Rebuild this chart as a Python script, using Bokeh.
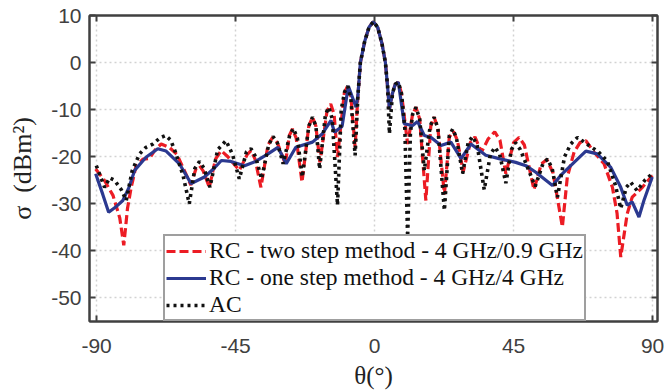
from bokeh.plotting import figure
from bokeh.models import Range1d, LinearAxis, FixedTicker, Legend, LegendItem
from bokeh.embed import file_html
from bokeh.resources import INLINE

# RC - two step method - 4 GHz/0.9 GHz
red_theta = [-90.3, -87.5, -84.7, -82.5, -81.2, -80.0, -78.8, -77.2, -75.0, -72.9,
             -71.0, -69.1, -66.5, -64.0, -62.1, -59.5, -57.8, -56.7, -55.5, -53.5,
             -51.5, -49.7, -47.5, -43.8, -41.2, -40.0, -38.7, -36.8, -34.5, -33.0,
             -31.5, -28.9, -27.6, -26.6, -25.4, -23.5, -21.3, -20.1, -19.0, -17.7,
             -15.4, -14.2, -13.1, -12.0, -9.8, -8.7, -7.7, -6.3, -5.4, -4.6,
             -3.2, -1.8, -0.4, 1.0, 2.4, 3.5, 4.2, 4.8, 5.8, 6.7,
             7.7, 8.7, 10.7, 12.3, 13.4, 14.6, 16.6, 18.2, 19.3, 20.5,
             22.6, 24.2, 25.5, 26.8, 28.7, 31.0, 32.5, 34.6, 36.8, 38.9,
             40.6, 42.5, 45.0, 46.8, 48.5, 51.6, 54.0, 55.8, 57.8, 60.8,
             62.4, 64.6, 66.5, 68.4, 71.0, 74.3, 77.0, 78.5, 79.7, 81.8,
             83.4, 86.7, 89.9]
red_sigma = [-22.6, -25.0, -28.2, -33.0, -38.8, -31.0, -26.5, -21.9, -20.5, -20.4,
             -18.5, -17.3, -18.0, -19.5, -22.2, -26.0, -22.5, -21.9, -23.0, -26.5,
             -20.5, -18.7, -20.0, -22.9, -19.5, -18.7, -20.5, -26.5, -17.5, -15.9,
             -17.0, -21.5, -15.5, -14.1, -16.0, -25.4, -13.5, -11.6, -13.5, -21.2,
             -10.3, -8.8, -11.0, -20.1, -6.5, -4.9, -7.0, -18.0, -7.0, 0.0,
             4.5, 7.5, 8.7, 7.5, 4.0, 0.0, -5.0, -9.9, -6.5, -4.6,
             -4.2, -6.5, -17.3, -11.0, -9.5, -12.0, -29.3, -13.5, -11.6, -14.0,
             -28.0, -15.8, -14.6, -16.5, -23.2, -17.0, -15.8, -19.0, -16.2, -14.7,
             -16.5, -23.6, -17.0, -15.9, -17.5, -27.0, -21.5, -20.6, -23.5, -34.9,
             -24.3, -19.0, -17.0, -16.6, -19.0, -21.5, -26.5, -32.0, -41.3, -32.1,
             -28.6, -26.5, -24.0]

# RC - one step method - 4 GHz/4 GHz
blue_theta = [-90.3, -88.0, -86.1, -83.5, -81.5, -79.5, -77.7, -74.0, -70.2, -67.5,
              -63.2, -59.4, -55.1, -52.0, -49.6, -46.5, -42.1, -38.5, -34.5, -31.3,
              -28.6, -25.5, -20.1, -16.9, -14.1, -13.0, -10.5, -8.5, -6.0, -5.4,
              -4.6, -3.2, -1.8, -0.4, 1.0, 2.4, 3.5, 4.2, 4.8, 5.8,
              6.7, 7.7, 9.6, 12.3, 13.9, 16.1, 18.3, 21.5, 24.7, 28.0,
              31.2, 36.0, 40.3, 45.7, 49.0, 52.2, 57.6, 60.5, 64.6, 68.4,
              72.1, 76.4, 79.7, 81.8, 83.4, 85.6, 87.2, 89.9]
blue_sigma = [-23.6, -28.0, -31.8, -30.5, -29.3, -26.5, -22.9, -20.1, -18.3, -18.8,
              -21.5, -25.7, -24.3, -22.5, -20.8, -21.0, -21.9, -21.0, -19.4, -18.0,
              -21.5, -18.0, -16.9, -15.1, -12.3, -14.8, -13.5, -5.0, -9.5, -7.0,
              0.0, 4.5, 7.5, 8.7, 7.5, 4.0, 0.0, -5.0, -9.9, -6.5,
              -4.6, -4.2, -13.0, -13.4, -12.5, -15.5, -15.9, -17.6, -16.9, -20.4,
              -17.3, -19.7, -20.4, -21.2, -21.9, -23.3, -26.1, -23.8, -21.2, -18.8,
              -19.4, -22.2, -26.5, -30.3, -29.6, -32.8, -29.3, -24.3]

# AC
ac_theta = [-90.1, -87.4, -85.8, -84.2, -82.0, -80.4, -78.5, -76.1, -74.0, -71.8,
            -69.5, -67.7, -66.0, -64.5, -62.0, -60.0, -58.2, -56.7, -55.2, -53.3,
            -50.8, -48.1, -46.0, -43.8, -41.5, -40.0, -38.5, -36.6, -34.3, -32.9,
            -31.5, -29.6, -27.5, -26.3, -25.0, -23.4, -21.3, -20.1, -19.0, -17.8,
            -15.9, -14.8, -13.7, -12.0, -10.8, -9.7, -8.7, -7.7, -6.3, -5.4,
            -4.6, -3.2, -1.8, -0.4, 1.0, 2.4, 3.5, 4.2, 4.8, 5.8,
            6.7, 7.7, 8.7, 9.8, 10.7, 11.6, 12.3, 13.4, 14.6, 16.1,
            18.0, 19.3, 20.5, 22.6, 24.2, 25.3, 26.5, 28.5, 30.3, 31.7,
            33.2, 35.5, 37.5, 39.0, 40.5, 42.5, 44.3, 45.6, 47.2, 52.0,
            54.5, 56.0, 57.5, 59.2, 61.5, 63.5, 65.7, 69.4, 72.5, 75.4,
            78.0, 79.7, 81.5, 82.9, 85.0, 87.5, 89.9]
ac_sigma = [-21.9, -26.5, -24.5, -25.0, -27.0, -29.3, -23.0, -19.4, -18.0, -17.3,
            -16.0, -15.5, -16.5, -19.0, -24.0, -30.0, -22.5, -21.0, -22.5, -26.5,
            -18.5, -16.6, -19.5, -24.7, -19.0, -18.3, -20.0, -24.7, -17.5, -15.7,
            -17.0, -21.5, -15.5, -14.0, -16.0, -24.3, -13.5, -11.6, -13.5, -22.6,
            -11.0, -9.5, -12.0, -30.3, -10.0, -6.2, -5.0, -7.5, -19.7, -7.0,
            0.0, 4.5, 7.5, 8.7, 7.5, 4.0, 0.0, -5.0, -15.1, -6.5,
            -4.6, -4.2, -6.5, -14.0, -37.0, -15.0, -11.0, -9.5, -12.0, -22.9,
            -13.5, -11.6, -14.0, -31.4, -15.5, -14.1, -16.0, -23.6, -17.0, -15.7,
            -17.5, -27.0, -19.5, -18.0, -19.5, -25.6, -18.5, -17.0, -18.5, -26.3,
            -21.5, -20.5, -22.5, -28.6, -20.0, -17.3, -15.9, -17.6, -19.0, -21.0,
            -26.1, -31.0, -26.5, -25.4, -27.2, -25.0, -23.6]

x_ticks = [-90, -45, 0, 45, 90]
y_ticks = [-50, -40, -30, -20, -10, 0, 10]
labels = ["RC - two step method - 4 GHz/0.9 GHz",
          "RC - one step method - 4 GHz/4 GHz",
          "AC"]

AXC = "#404040"
SERIF = "Liberation Serif"
SANS = "Liberation Sans"

p = figure(width=665, height=391, output_backend="svg", toolbar_location=None,
           x_range=Range1d(-92.3, 91.6), y_range=Range1d(-55, 10),
           min_border_left=89, min_border_right=8, min_border_top=15,
           min_border_bottom=70, x_axis_location=None, y_axis_location=None)
p.background_fill_color = "white"
p.border_fill_color = "white"
p.outline_line_color = AXC
p.outline_line_width = 2

xt = FixedTicker(ticks=x_ticks)
yt = FixedTicker(ticks=y_ticks)

def style_axis(ax, show):
    ax.axis_line_color = AXC
    ax.axis_line_width = 2
    ax.major_tick_line_color = AXC
    ax.major_tick_line_width = 2
    ax.major_tick_in = 6
    ax.major_tick_out = 0
    ax.minor_tick_line_color = None
    if show:
        ax.major_label_text_font = SANS
        ax.major_label_text_font_size = "21px"
        ax.major_label_text_color = AXC
        ax.axis_label_text_font = SERIF
        ax.axis_label_text_font_style = "normal"
        ax.axis_label_text_color = "#222222"
    else:
        ax.major_label_text_color = None
        ax.major_label_text_font_size = "1px"
        ax.major_label_standoff = 0

bx = LinearAxis(ticker=xt, axis_label="θ(°)")
style_axis(bx, True)
bx.major_label_overrides = {t: str(t) for t in x_ticks}
bx.axis_label_text_font_size = "25px"
bx.major_label_standoff = 17
bx.axis_label_standoff = 6
p.add_layout(bx, "below")

ly = LinearAxis(ticker=yt, axis_label="σ\u2002(dBm²)")
style_axis(ly, True)
ly.major_label_overrides = {t: str(t) for t in y_ticks}
ly.axis_label_text_font_size = "26px"
ly.major_label_standoff = 8
ly.axis_label_standoff = 11
p.add_layout(ly, "left")

tx = LinearAxis(ticker=xt)
style_axis(tx, False)
p.add_layout(tx, "above")
ry = LinearAxis(ticker=yt)
style_axis(ry, False)
p.add_layout(ry, "right")

p.xgrid.ticker = xt
p.ygrid.ticker = yt
for g in (p.xgrid, p.ygrid):
    g.grid_line_color = "#d2d2d2"
    g.grid_line_dash = "2 3"
    g.grid_line_width = 1.5

r_red = p.line(red_theta, red_sigma, line_color="#ec1c24", line_width=3.2,
               line_dash="9 4")
r_blue = p.line(blue_theta, blue_sigma, line_color="#2b3990", line_width=3.2)
r_ac = p.line(ac_theta, ac_sigma, line_color="#111111", line_width=3.6,
              line_dash="3 4")

legend = Legend(items=[LegendItem(label=labels[0], renderers=[r_red]),
                       LegendItem(label=labels[1], renderers=[r_blue]),
                       LegendItem(label=labels[2], renderers=[r_ac])],
                location=(74, 0))
legend.label_text_font = SERIF
legend.label_text_font_size = "23.5px"
legend.label_text_line_height = 1.0
legend.label_text_color = "#111111"
legend.glyph_width = 40
legend.glyph_height = 22
legend.label_height = 22
legend.label_standoff = 3
legend.spacing = 0
legend.padding = 1
legend.margin = 0
legend.border_line_color = AXC
legend.border_line_width = 2
legend.background_fill_color = "white"
legend.background_fill_alpha = 1.0
p.add_layout(legend)

open("out.html", "w").write(file_html(p, INLINE))
